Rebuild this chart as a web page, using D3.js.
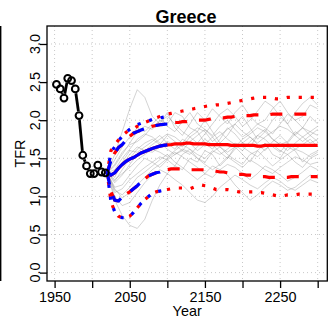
<!DOCTYPE html>
<html>
<head>
<meta charset="utf-8">
<script src="https://cdn.jsdelivr.net/npm/d3@7"></script>
<style>
html,body{margin:0;padding:0;background:#fff;}
text{font-family:"Liberation Sans",Arial,Helvetica,sans-serif;}
</style>
</head>
<body>
<svg id="chart" width="328" height="322"></svg>
<script>
// ---------- DATA ----------
const title = "Greece";
const xTicks = [1950, 2000, 2050, 2100, 2150, 2200, 2250, 2300];
const xTickLabels = ["1950", "", "2050", "", "2150", "", "2250", ""];
const yTicks = [0, 0.5, 1, 1.5, 2, 2.5, 3];
const yTickLabels = ["0.0", "0.5", "1.0", "1.5", "2.0", "2.5", "3.0"];

const obsYears = [1952.5,1957.5,1962.5,1967.5,1972.5,1977.5,1982.5,1987.5,1992.5,1997.5,2002.5,2007.5,2012.5,2017.5];
const obsTFR   = [2.47,2.41,2.29,2.55,2.52,2.41,2.06,1.54,1.40,1.30,1.30,1.41,1.32,1.31];

// projection years 2020..2300 by 5 (red model), 2020..2100 (blue model)
const projYears = d3.range(2020, 2301, 5);
const blueYears = d3.range(2020, 2101, 5);

const redMedian = [1.31,1.28,1.31,1.37,1.42,1.46,1.49,1.51,1.54,1.57,1.59,1.61,1.63,1.645,1.66,1.67,1.675,
  1.68,1.69,1.69,1.69,1.70,1.70,1.69,1.69,1.69,1.69,1.68,1.68,1.68,1.68,1.68,1.68,1.67,1.67,1.67,1.67,1.67,1.67,1.67,
  1.66,1.66,1.67,1.67,1.67,1.67,1.67,1.67,1.67,1.67,1.67,1.67,1.67,1.67,1.67,1.67,1.67];
const redUp80 = [1.31,1.47,1.57,1.64,1.68,1.74,1.79,1.83,1.85,1.87,1.89,1.90,1.92,1.93,1.94,1.945,1.95,
  1.96,1.97,1.97,1.98,1.98,1.99,1.99,2.00,2.00,2.00,2.01,2.02,2.02,2.03,2.03,2.04,2.04,2.05,2.05,2.06,2.06,2.06,2.07,
  2.07,2.07,2.07,2.07,2.08,2.08,2.08,2.08,2.08,2.08,2.08,2.08,2.08,2.08,2.08,2.08,2.08];
const redLo80 = [1.31,1.06,0.95,0.94,0.99,1.03,1.06,1.10,1.14,1.19,1.23,1.27,1.29,1.31,1.32,1.34,1.35,
  1.36,1.36,1.36,1.36,1.35,1.35,1.35,1.35,1.35,1.35,1.34,1.34,1.33,1.32,1.32,1.31,1.31,1.30,1.29,1.29,1.28,1.28,1.27,
  1.27,1.26,1.26,1.25,1.25,1.25,1.25,1.25,1.25,1.26,1.26,1.26,1.26,1.26,1.26,1.26,1.26];
const redUp95 = [1.31,1.60,1.68,1.74,1.80,1.84,1.87,1.89,1.92,1.95,1.97,1.99,2.01,2.03,2.05,2.07,2.08,
  2.09,2.10,2.11,2.12,2.13,2.14,2.15,2.16,2.17,2.18,2.19,2.19,2.20,2.20,2.21,2.22,2.23,2.24,2.25,2.26,2.27,2.28,2.29,
  2.30,2.30,2.30,2.30,2.29,2.28,2.28,2.29,2.30,2.30,2.30,2.30,2.30,2.30,2.30,2.30,2.30];
const redLo95 = [1.31,0.93,0.80,0.74,0.72,0.72,0.74,0.79,0.85,0.91,0.96,1.00,1.04,1.06,1.07,1.08,1.09,
  1.10,1.11,1.11,1.11,1.11,1.10,1.12,1.14,1.15,1.14,1.13,1.11,1.09,1.09,1.09,1.09,1.08,1.07,1.06,1.06,1.06,1.06,1.06,
  1.05,1.05,1.04,1.03,1.02,1.01,1.01,1.01,1.02,1.02,1.02,1.03,1.03,1.03,1.03,1.03,1.03];

const blueMedian = [1.32,1.28,1.31,1.37,1.42,1.46,1.49,1.51,1.54,1.57,1.59,1.61,1.63,1.645,1.66,1.67,1.675];
const blueUp80   = [1.31,1.47,1.57,1.64,1.68,1.74,1.79,1.83,1.85,1.87,1.89,1.90,1.92,1.93,1.94,1.945,1.95];
const blueLo80   = [1.31,1.06,0.95,0.94,0.99,1.03,1.06,1.10,1.14,1.19,1.23,1.27,1.29,1.31,1.32,1.34,1.35];
const blueUp95   = [1.31,1.58,1.65,1.73,1.79,1.84,1.88,1.91,1.94,1.96,1.98,1.99,2.01,2.02,2.03,2.04,2.05];
const blueLo95   = [1.31,0.93,0.80,0.74,0.72,0.72,0.74,0.79,0.85,0.91,0.96,1.00,1.04,1.06,1.07,1.08,1.09];

// gray trajectories, years 2020..2300 by 10
const trajYears = d3.range(2020, 2301, 10);
const traj01 = [1.31,1.55,1.85,2.15,2.40,2.30,2.05,1.95,2.10,1.90,1.80,1.95,2.10,2.00,1.85,1.70,1.80,1.95,2.05,1.90,1.75,1.85,2.00,2.10,1.95,1.80,1.90,2.05,1.95];
const traj02 = [1.31,0.95,0.75,0.62,0.58,0.70,0.95,1.15,1.30,1.40,1.35,1.50,1.45,1.60,1.55,1.40,1.50,1.65,1.55,1.45,1.60,1.70,1.55,1.50,1.65,1.60,1.45,1.55,1.60];
const traj03 = [1.31,1.20,1.35,1.50,1.62,1.70,1.75,1.68,1.80,1.72,1.65,1.78,1.85,1.70,1.62,1.75,1.90,1.82,1.70,1.65,1.80,1.88,1.75,1.68,1.72,1.85,1.78,1.70,1.75];
const traj04 = [1.31,1.40,1.55,1.70,1.85,1.92,1.88,2.00,1.95,2.10,2.05,1.90,1.85,2.00,2.15,2.05,1.95,2.10,2.20,2.05,1.95,2.00,2.15,2.25,2.10,2.00,2.05,2.20,2.15];
const traj05 = [1.31,1.05,1.10,1.22,1.30,1.38,1.45,1.52,1.48,1.40,1.55,1.62,1.50,1.45,1.58,1.65,1.55,1.48,1.42,1.55,1.60,1.50,1.40,1.48,1.55,1.45,1.38,1.50,1.55];
const traj06 = [1.31,1.25,1.45,1.60,1.58,1.65,1.72,1.80,1.70,1.62,1.75,1.70,1.60,1.68,1.78,1.85,1.75,1.68,1.60,1.72,1.80,1.75,1.65,1.58,1.70,1.82,1.90,1.80,1.72];
const traj07 = [1.31,1.10,0.98,1.05,1.15,1.25,1.35,1.42,1.50,1.58,1.52,1.45,1.38,1.30,1.25,1.35,1.42,1.38,1.30,1.22,1.30,1.40,1.35,1.28,1.20,1.25,1.32,1.40,1.35];
const traj08 = [1.31,1.48,1.65,1.78,1.90,1.85,1.95,2.05,1.92,1.85,1.98,2.10,1.95,1.88,1.80,1.92,2.00,1.88,1.78,1.85,1.95,1.90,1.82,1.95,2.08,2.00,1.90,1.85,1.92];
const traj09 = [1.31,1.18,1.28,1.42,1.55,1.60,1.58,1.65,1.72,1.68,1.60,1.55,1.65,1.75,1.68,1.58,1.50,1.62,1.70,1.78,1.68,1.60,1.72,1.80,1.70,1.62,1.68,1.75,1.65];
const traj10 = [1.31,1.35,1.50,1.62,1.75,1.82,1.78,1.70,1.62,1.55,1.60,1.72,1.80,1.88,1.78,1.65,1.58,1.65,1.75,1.82,1.90,1.85,1.75,1.68,1.60,1.70,1.78,1.85,1.80];
const traj11 = [1.31,1.00,0.88,0.92,1.05,1.18,1.28,1.35,1.30,1.22,1.15,1.05,0.95,0.92,1.00,1.12,1.20,1.28,1.22,1.15,1.10,1.18,1.25,1.20,1.12,1.08,1.15,1.22,1.18];
const traj12 = [1.31,1.42,1.58,1.68,1.72,1.80,1.92,1.98,2.05,1.95,1.85,1.78,1.70,1.82,1.95,2.08,2.15,2.05,1.92,2.00,2.12,2.25,2.18,2.05,1.95,2.10,2.22,2.30,2.20];
const traj13 = [1.31,1.22,1.30,1.38,1.48,1.55,1.62,1.58,1.52,1.60,1.68,1.62,1.55,1.50,1.60,1.55,1.62,1.70,1.65,1.58,1.52,1.62,1.68,1.60,1.55,1.62,1.58,1.52,1.58];
const traj14 = [1.31,1.12,1.15,1.28,1.40,1.50,1.45,1.38,1.48,1.55,1.62,1.58,1.50,1.42,1.35,1.42,1.52,1.45,1.38,1.48,1.42,1.35,1.30,1.38,1.45,1.52,1.48,1.42,1.45];
const traj15 = [1.31,1.30,1.42,1.55,1.65,1.60,1.68,1.75,1.82,1.78,1.70,1.82,1.90,1.85,1.72,1.80,1.88,1.95,1.85,1.78,1.70,1.78,1.85,1.92,1.88,1.80,1.72,1.80,1.88];
const traj16 = [1.31,1.08,1.02,1.12,1.25,1.32,1.40,1.48,1.55,1.45,1.38,1.30,1.22,1.30,1.40,1.35,1.28,1.15,1.05,0.95,1.02,1.12,1.20,1.15,1.08,1.12,1.20,1.28,1.25];
const trajectories = [traj01,traj02,traj03,traj04,traj05,traj06,traj07,traj08,traj09,traj10,traj11,traj12,traj13,traj14,traj15,traj16];

// ---------- DRAW ----------
const svg = d3.select("#chart");
const L = 47, R = 327.3, T = 26, B = 281;
const x = d3.scaleLinear().domain([1939.9, 2312.8]).range([L, R]);
const y = d3.scaleLinear().domain([-0.11, 3.236]).range([B, T]);

// outer left line (neighbouring panel edge)
svg.append("line").attr("x1", 0.7).attr("x2", 0.7).attr("y1", T).attr("y2", B)
  .attr("stroke", "#000").attr("stroke-width", 1.4);

// grid
const grid = svg.append("g");
xTicks.forEach(v => grid.append("line").attr("x1", x(v)).attr("x2", x(v)).attr("y1", T).attr("y2", B)
  .attr("stroke", "#c8c8c8").attr("stroke-width", 1).attr("stroke-dasharray", "1,3"));
yTicks.forEach(v => grid.append("line").attr("x1", L).attr("x2", R).attr("y1", y(v)).attr("y2", y(v))
  .attr("stroke", "#c8c8c8").attr("stroke-width", 1).attr("stroke-dasharray", "1,3"));

svg.append("clipPath").attr("id", "clip").append("rect")
  .attr("x", L).attr("y", T).attr("width", R - L).attr("height", B - T);
const plot = svg.append("g").attr("clip-path", "url(#clip)");

const line = (xs) => d3.line().x((d, i) => x(xs[i])).y(d => y(d));

// trajectories
trajectories.forEach(tr => plot.append("path").attr("d", line(trajYears)(tr))
  .attr("fill", "none").attr("stroke", "#8c8c8c").attr("stroke-opacity", 0.38).attr("stroke-width", 1));

function draw(xs, vals, color, kind, offset) {
  const p = plot.append("path").attr("d", line(xs)(vals)).attr("fill", "none")
    .attr("stroke", color).attr("stroke-width", 3.2);
  if (kind === "dash") p.attr("stroke-dasharray", "12,12").attr("stroke-dashoffset", offset);
  if (kind === "dot") p.attr("stroke-dasharray", "3.2,8.8").attr("stroke-dashoffset", offset);
}
const red = "#ff0000", blue = "#0000ff";
draw(projYears, redMedian, red, "solid", 0);
draw(projYears, redUp80, red, "dash", 4);
draw(projYears, redLo80, red, "dash", 4);
draw(projYears, redUp95, red, "dot", 3);
draw(projYears, redLo95, red, "dot", 3);
draw(blueYears, blueMedian, blue, "solid", 0);
draw(blueYears, blueUp80, blue, "dash", 0);
draw(blueYears, blueLo80, blue, "dash", 0);
draw(blueYears, blueUp95, blue, "dot", 0);
draw(blueYears, blueLo95, blue, "dot", 0);

// observed
const r = 3.4, gap = r + 1;
const obs = svg.append("g");
for (let i = 0; i < obsYears.length - 1; i++) {
  const x1 = x(obsYears[i]), y1 = y(obsTFR[i]), x2 = x(obsYears[i+1]), y2 = y(obsTFR[i+1]);
  const len = Math.hypot(x2 - x1, y2 - y1);
  if (len > 2 * gap) {
    const ux = (x2 - x1) / len, uy = (y2 - y1) / len;
    obs.append("line").attr("x1", x1 + ux * gap).attr("y1", y1 + uy * gap)
      .attr("x2", x2 - ux * gap).attr("y2", y2 - uy * gap)
      .attr("stroke", "#000").attr("stroke-width", 2.8);
  }
}
obsYears.forEach((yr, i) => obs.append("circle").attr("cx", x(yr)).attr("cy", y(obsTFR[i])).attr("r", r)
  .attr("fill", "none").attr("stroke", "#000").attr("stroke-width", 2));

// box
svg.append("rect").attr("x", L).attr("y", T).attr("width", R - L).attr("height", B - T)
  .attr("fill", "none").attr("stroke", "#000").attr("stroke-width", 1.3);

// x axis
const xAxis = d3.axisBottom(x).tickValues(xTicks).tickSize(7).tickPadding(4)
  .tickFormat((d, i) => xTickLabels[i]);
const gx = svg.append("g").attr("transform", `translate(0,${B})`).call(xAxis);
gx.select(".domain").remove();
gx.selectAll(".tick line").attr("stroke", "#000").attr("stroke-width", 1.3);
gx.selectAll(".tick text").attr("font-size", "14.4px").attr("fill", "#000")
  .attr("font-family", "Liberation Sans, Arial, sans-serif");

// y axis
const yAxis = d3.axisLeft(y).tickValues(yTicks).tickSize(7).tickFormat(() => "");
const gy = svg.append("g").attr("transform", `translate(${L},0)`).call(yAxis);
gy.select(".domain").remove();
gy.selectAll(".tick line").attr("stroke", "#000").attr("stroke-width", 1.3);
yTicks.forEach((v, i) => svg.append("text")
  .attr("transform", `translate(39.5,${y(v)}) rotate(-90)`)
  .attr("text-anchor", "middle").attr("font-size", "14.4px").text(yTickLabels[i]));

// labels
svg.append("text").attr("x", (L + R) / 2).attr("y", 316).attr("text-anchor", "middle")
  .attr("font-size", "14.4px").text("Year");
svg.append("text").attr("transform", `translate(25,${(T + B) / 2}) rotate(-90)`)
  .attr("text-anchor", "middle").attr("font-size", "14.4px").text("TFR");
svg.append("text").attr("x", 186).attr("y", 22.7).attr("text-anchor", "middle")
  .attr("font-size", "18px").attr("font-weight", "bold").text(title);
</script>
</body>
</html>
